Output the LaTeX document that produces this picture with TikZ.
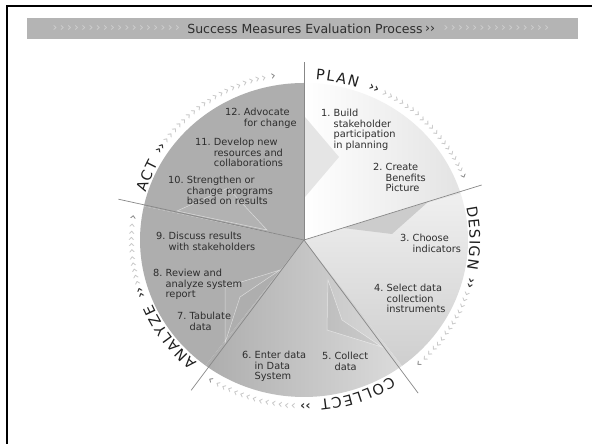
\documentclass[tikz,border=0pt]{standalone}
\usepackage{fontspec}
\setmainfont{DejaVu Sans}
\definecolor{txt}{RGB}{45,45,45}
\definecolor{sectgray}{RGB}{174,174,174}
\definecolor{barfill}{RGB}{180,180,180}
\definecolor{barchev}{RGB}{208,208,208}
\definecolor{divcol}{RGB}{135,135,135}
\tikzset{
  item/.style={anchor=base west, inner sep=0pt, text=txt, font=\fontsize{9.8}{10.6}\selectfont},
  ringletter/.style={inner sep=0pt, text=black!88, font=\fontsize{14.5}{14.5}\selectfont},
  lchev/.style={inner sep=0pt, text=black!24, font=\fontsize{12.5}{12.5}\selectfont},
  endchev/.style={inner sep=0pt, text=black!50, font=\fontsize{13}{13}\selectfont},
  dchev/.style={inner sep=0pt, text=black!80, font=\bfseries\fontsize{12.5}{12.5}\selectfont},
  bchev/.style={inner sep=0pt, text=barchev, font=\fontsize{12}{12}\selectfont},
  titletext/.style={inner sep=0pt, text=txt, font=\fontsize{12.5}{13}\selectfont},
  divider/.style={draw=divcol, line width=0.7pt},
  innershape/.style={draw=white, draw opacity=0.55, line width=0.5pt},
}
\newcommand\ringlet[2]{\node[ringletter, rotate=#1-90] at (#1:171 and 166) {#2};}
\newcommand\darkchev[1]{\node[dchev, rotate=#1-90] at (#1:172 and 166) {››};}
\newcommand\lastchev[1]{\node[endchev, rotate=#1-90] at (#1:172 and 166) {›};}
\begin{document}
\begin{tikzpicture}[x=1pt,y=1pt]
\useasboundingbox (0,0) rectangle (592,444);
\clip (0,0) rectangle (592,444);
\fill[white] (0,0) rectangle (592,444);
% frame
\draw[line width=2.4pt] (6.8,-10) rectangle (600,438);
% title bar
\fill[barfill] (27,405) rectangle (578,426);
\foreach \x in {55,62.2,...,178} \node[bchev] at (\x,415.5) {›};
\foreach \x in {446,453.2,...,553} \node[bchev] at (\x,415.5) {›};
\node[titletext] (title) at (305,415) {Success Measures Evaluation Process};
\node[titletext, anchor=west] (titlechev) at (title.east) {\,››};
% sectors
\begin{scope}[shift={(304,204)}]
\coordinate (o) at (0,0);
\shade[left color=white, right color=black!11] (o) -- (90:164 and 157) arc[start angle=90,end angle=17.2,x radius=164,y radius=157] -- cycle;
\shade[top color=black!6, bottom color=black!19] (o) -- (17.2:164 and 157) arc[start angle=17.2,end angle=-53.3,x radius=164,y radius=157] -- cycle;
\shade[left color=black!32, right color=black!14] (o) -- (-53.3:164 and 157) arc[start angle=-53.3,end angle=-126.9,x radius=164,y radius=157] -- cycle;
\fill[sectgray] (o) -- (-126.9:164 and 157) arc[start angle=-126.9,end angle=-192.4,x radius=164,y radius=157] -- cycle;
\fill[sectgray] (o) -- (167.6:164 and 157) arc[start angle=167.6,end angle=90,x radius=164,y radius=157] -- cycle;
\end{scope}
% inner shapes
\fill[black!10] (305,327) -- (339,287) -- (305,247) -- cycle;
\fill[black!20] (343,216) -- (392,210) -- (428,242) -- cycle;
\filldraw[innershape, fill=black, fill opacity=0.05] (328,164) -- (342,124) -- (382,97) -- (327,114) -- cycle;
\filldraw[innershape, fill=white, fill opacity=0.06] (280,174) -- (240,147) -- (225,101) -- (225,157) -- cycle;
\filldraw[innershape, fill=white, fill opacity=0.06] (177,233) -- (228,256) -- (267,214) -- cycle;
% dividers
\begin{scope}[shift={(304,204)}]
\coordinate (c) at (0,0);
\coordinate (d1) at (90:178);
\coordinate (d2) at (17.2:186);
\coordinate (d3) at (-53.3:191);
\coordinate (d4) at (-126.9:188);
\coordinate (d5) at (167.6:190);
\foreach \d in {d1,d2,d3,d4,d5} \draw[divider] (c) -- (\d);
% ring labels
\ringlet{84.5}{P}\ringlet{81.0}{L}\ringlet{77.3}{A}\ringlet{73.1}{N}
\ringlet{9.7}{D}\ringlet{5.7}{E}\ringlet{2.0}{S}\ringlet{-0.9}{I}\ringlet{-4.1}{G}\ringlet{-8.4}{N}
\ringlet{-60}{C}\ringlet{-64.3}{O}\ringlet{-68.2}{L}\ringlet{-71.6}{L}\ringlet{-75.1}{E}\ringlet{-79.0}{C}\ringlet{-82.8}{T}
\ringlet{228}{A}\ringlet{223.9}{N}\ringlet{219.9}{A}\ringlet{216.3}{L}\ringlet{212.9}{Y}\ringlet{209.1}{Z}\ringlet{205.3}{E}
\ringlet{161}{A}\ringlet{157.1}{C}\ringlet{153.3}{T}
% dark chevrons
\darkchev{66}\darkchev{-15}\darkchev{-89.5}\darkchev{198.5}\darkchev{146.5}
% light chevrons
\foreach \a in {62,59.8,...,24.5} \node[lchev, rotate=\a-90] at (\a:172 and 166) {›};
\foreach \a in {-19,-21.2,...,-46} \node[lchev, rotate=\a-90] at (\a:172 and 166) {›};
\foreach \a in {-93.5,-95.7,...,-120.5} \node[lchev, rotate=\a-90] at (\a:172 and 166) {›};
\foreach \a in {195,192.8,...,174.5} \node[lchev, rotate=\a-90] at (\a:172 and 166) {›};
\foreach \a in {143,140.8,...,102.5} \node[lchev, rotate=\a-90] at (\a:172 and 166) {›};
\lastchev{22.3}\lastchev{-48.2}\lastchev{-122.7}\lastchev{172.3}\lastchev{100.3}
\end{scope}
% step texts
\node[item] (i1) at (321,327.5) {\begin{tabular}[t]{@{}l@{\ }l@{}}1. & Build\\ & stakeholder\\ & participation\\ & in planning\end{tabular}};
\node[item] (i2) at (373,273.5) {\begin{tabular}[t]{@{}l@{\ }l@{}}2. & Create\\ & Benefits\\ & Picture\end{tabular}};
\node[item] (i3) at (400,202.5) {\begin{tabular}[t]{@{}l@{\ }l@{}}3. & Choose\\ & indicators\end{tabular}};
\node[item] (i4) at (374,152.5) {\begin{tabular}[t]{@{}l@{\ }l@{}}4. & Select data\\ & collection\\ & instruments\end{tabular}};
\node[item] (i5) at (322,84.5) {\begin{tabular}[t]{@{}l@{\ }l@{}}5. & Collect\\ & data\end{tabular}};
\node[item] (i6) at (242,85.5) {\begin{tabular}[t]{@{}l@{\ }l@{}}6. & Enter data\\ & in Data\\ & System\end{tabular}};
\node[item] (i7) at (177,124.5) {\begin{tabular}[t]{@{}l@{\ }l@{}}7. & Tabulate\\ & data\end{tabular}};
\node[item] (i8) at (153,167.5) {\begin{tabular}[t]{@{}l@{\ }l@{}}8. & Review and\\ & analyze system\\ & report\end{tabular}};
\node[item] (i9) at (156,204.5) {\begin{tabular}[t]{@{}l@{\ }l@{}}9. & Discuss results\\ & with stakeholders\end{tabular}};
\node[item] (i10) at (168,260.5) {\begin{tabular}[t]{@{}l@{\ }l@{}}10. & Strengthen or\\ & change programs\\ & based on results\end{tabular}};
\node[item] (i11) at (195,298.5) {\begin{tabular}[t]{@{}l@{\ }l@{}}11. & Develop new\\ & resources and\\ & collaborations\end{tabular}};
\node[item] (i12) at (225,328.5) {\begin{tabular}[t]{@{}l@{\ }l@{}}12. & Advocate\\ & for change\end{tabular}};
\end{tikzpicture}
\end{document}
